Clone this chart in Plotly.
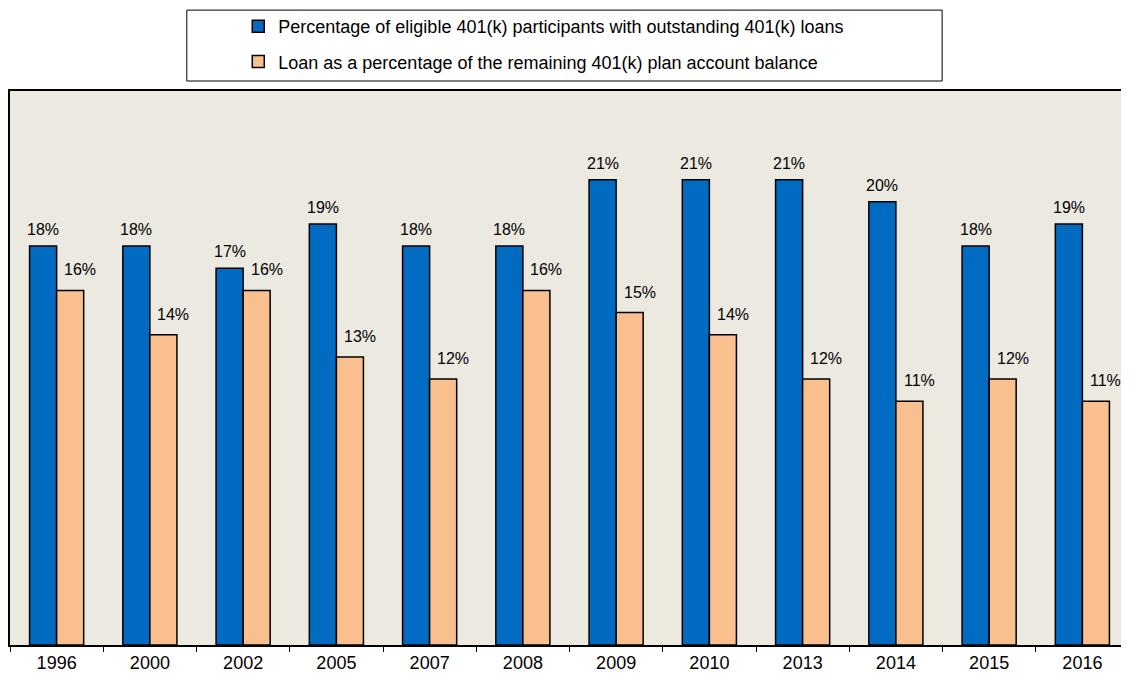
import plotly.graph_objects as go

years = ["1996", "2000", "2002", "2005", "2007", "2008", "2009", "2010", "2013", "2014", "2015", "2016"]
participants_pct = [18, 18, 17, 19, 18, 18, 21, 21, 21, 20, 18, 19]
loan_pct = [16, 14, 16, 13, 12, 16, 15, 14, 12, 11, 12, 11]
series_names = [
    "Percentage of eligible 401(k) participants with outstanding 401(k) loans",
    "Loan as a percentage of the remaining 401(k) plan account balance",
]

BLUE = "#006BC0"
ORANGE = "#F9BF8F"
BG = "#ECE9E0"
FONT = "Arial, Liberation Sans, sans-serif"

fig = go.Figure()
fig.add_trace(go.Bar(x=years, y=participants_pct, name=series_names[0], legendgroup="a",
                     marker=dict(color=BLUE, line=dict(color="black", width=1.5))))
fig.add_trace(go.Bar(x=years, y=loan_pct, name=series_names[1], legendgroup="b",
                     marker=dict(color=ORANGE, line=dict(color="black", width=1.5))))

annotations = []
for i, v in enumerate(participants_pct):
    annotations.append(dict(x=i, y=v, text=f"{v}%", showarrow=False, xref="x", yref="y",
                            xanchor="center", yanchor="bottom", xshift=-13.5, yshift=6,
                            font=dict(family=FONT, size=16, color="black")))
for i, v in enumerate(loan_pct):
    annotations.append(dict(x=i, y=v, text=f"{v}%", showarrow=False, xref="x", yref="y",
                            xanchor="center", yanchor="bottom", xshift=23.5, yshift=10,
                            font=dict(family=FONT, size=16, color="black")))

fig.update_layout(
    width=1121, height=671,
    margin=dict(l=2, r=0, t=83, b=34),
    paper_bgcolor="white",
    plot_bgcolor=BG,
    barmode="group",
    bargap=0.42,
    bargroupgap=0,
    font=dict(family=FONT, size=18, color="black"),
    showlegend=True,
    legend=dict(
        x=0.204, xanchor="left", y=1.15, yanchor="top",
        bgcolor="rgba(0,0,0,0)", borderwidth=0,
        traceorder="grouped", tracegroupgap=9,
        font=dict(family=FONT, size=18, color="black"),
    ),
    shapes=[dict(type="rect", xref="paper", yref="paper",
                 x0=0.158, x1=0.833, y0=1.018, y1=1.146,
                 line=dict(color="black", width=1), fillcolor="white", layer="below")],
    annotations=annotations,
    xaxis=dict(
        type="category", showgrid=False, showline=True, linecolor="black", linewidth=2,
        mirror=True, ticks="outside", tickson="boundaries", ticklen=5, tickcolor="black",
        tickfont=dict(family=FONT, size=18, color="black"), range=[-0.5, 11.5],
    ),
    yaxis=dict(
        range=[0, 25], showgrid=False, zeroline=False, showticklabels=False,
        showline=True, linecolor="black", linewidth=2, ticks="",
    ),
)

fig.write_html("out.html")
